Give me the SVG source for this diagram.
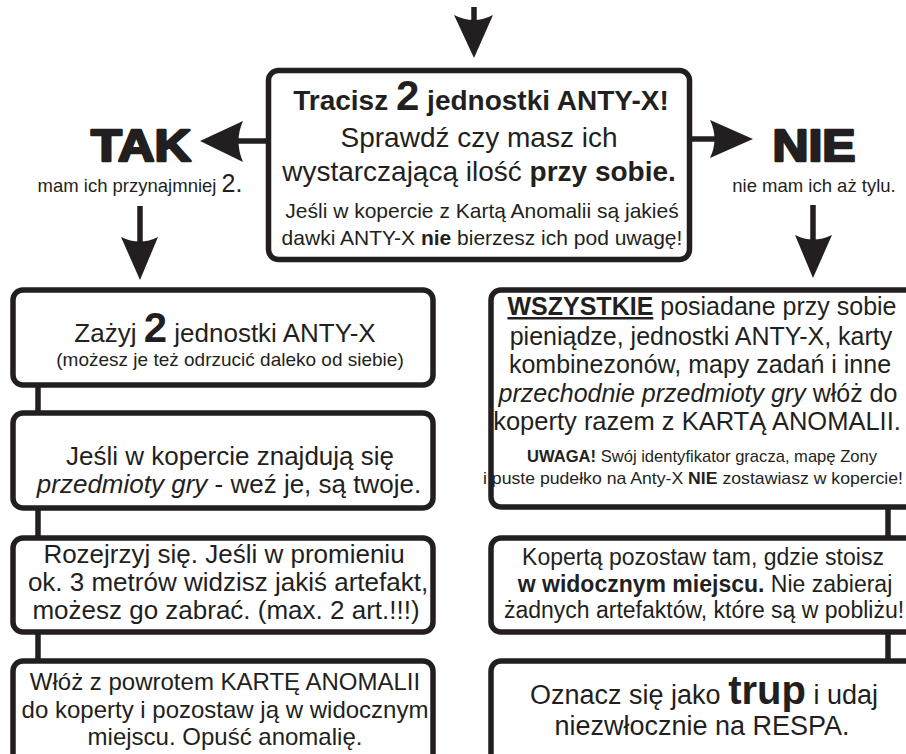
<svg xmlns="http://www.w3.org/2000/svg" width="906" height="754" viewBox="0 0 906 754">
<style>
text{font-family:"Liberation Sans",Arial,sans-serif;fill:#231f20;text-anchor:middle}
.box{fill:#fff;stroke:#231f20;stroke-width:5.5}
.b{font-weight:bold}
.i{font-style:italic}
.con{stroke:#231f20;stroke-width:5.5;fill:none}
.ah{fill:#231f20}
.big{font-weight:bold;font-size:45px;stroke:#231f20;stroke-width:2.5;stroke-linejoin:round}
</style>
<rect width="906" height="754" fill="#fff"/>
<g id="connectors">
  <line class="con" x1="474" y1="7" x2="474" y2="22"/>
  <path class="ah" d="M454,15 Q474,25 493,15 L474,58 Z"/>
  <line class="con" x1="270" y1="141" x2="238" y2="141"/>
  <path class="ah" d="M243,121 Q234,141 243,162 L200,141 Z"/>
  <line class="con" x1="688" y1="139" x2="716" y2="139"/>
  <path class="ah" d="M710,120 Q719,139 710,158 L753,139 Z"/>
  <line class="con" x1="140" y1="206" x2="140" y2="242"/>
  <path class="ah" d="M121,237 Q140,246 158,237 L140,280 Z"/>
  <line class="con" x1="813" y1="205" x2="813" y2="240"/>
  <path class="ah" d="M795,235 Q813,244 832,235 L813,278 Z"/>
  <line class="con" x1="38" y1="385" x2="38" y2="413"/>
  <line class="con" x1="38" y1="508" x2="38" y2="538"/>
  <line class="con" x1="38" y1="632" x2="38" y2="661"/>
  <line class="con" x1="888" y1="507" x2="888" y2="538"/>
  <line class="con" x1="888" y1="632" x2="888" y2="661"/>
</g>
<g id="start">
  <rect class="box" x="268.5" y="70.5" width="421" height="189" rx="10"/>
  <text x="481" y="110" class="b" font-size="28">Tracisz <tspan font-size="42">2</tspan> jednostki ANTY-X!</text>
  <text x="479" y="147" font-size="28">Sprawdź czy masz ich</text>
  <text x="479" y="181" font-size="28">wystarczającą ilość <tspan class="b">przy sobie.</tspan></text>
  <text x="482" y="218" font-size="21">Jeśli w kopercie z Kartą Anomalii są jakieś</text>
  <text x="482" y="245" font-size="21">dawki ANTY-X <tspan class="b">nie</tspan> bierzesz ich pod uwagę!</text>
</g>
<g id="tak">
  <text x="141" y="161" class="big" textLength="100" lengthAdjust="spacingAndGlyphs">TAK</text>
  <text x="140" y="192" font-size="18.5">mam ich przynajmniej <tspan font-size="25">2.</tspan></text>
</g>
<g id="nie">
  <text x="814" y="161" class="big" textLength="83" lengthAdjust="spacingAndGlyphs">NIE</text>
  <text x="814" y="192" font-size="18.5">nie mam ich aż tylu.</text>
</g>
<g id="l1">
  <rect class="box" x="13" y="290" width="420" height="95" rx="10"/>
  <text x="225" y="342" font-size="26">Zażyj <tspan class="b" font-size="42">2</tspan> jednostki ANTY-X</text>
  <text x="230" y="366" font-size="19">(możesz je też odrzucić daleko od siebie)</text>
</g>
<g id="l2">
  <rect class="box" x="13" y="413" width="420" height="95" rx="10"/>
  <text x="230" y="465" font-size="26">Jeśli w kopercie znajdują się</text>
  <text x="229" y="493" font-size="26"><tspan class="i">przedmioty gry</tspan> - weź je, są twoje.</text>
</g>
<g id="l3">
  <rect class="box" x="13" y="538" width="420" height="94" rx="10"/>
  <text x="224" y="563" font-size="26">Rozejrzyj się. Jeśli w promieniu</text>
  <text x="228" y="591" font-size="26">ok. 3 metrów widzisz jakiś artefakt,</text>
  <text x="226" y="619" font-size="26">możesz go zabrać. (max. 2 art.!!!)</text>
</g>
<g id="l4">
  <rect class="box" x="13" y="661" width="420" height="110" rx="10"/>
  <text x="225" y="690" font-size="24">Włóż z powrotem KARTĘ ANOMALII</text>
  <text x="225" y="718" font-size="24">do koperty i pozostaw ją w widocznym</text>
  <text x="225" y="745" font-size="24">miejscu. Opuść anomalię.</text>
</g>
<g id="r1">
  <rect class="box" x="491" y="290" width="425" height="217" rx="10"/>
  <text x="702" y="315" font-size="25"><tspan class="b" text-decoration="underline">WSZYSTKIE</tspan> posiadane przy sobie</text>
  <text x="701" y="345" font-size="25">pieniądze, jednostki ANTY-X, karty</text>
  <text x="700" y="373" font-size="25">kombinezonów, mapy zadań i inne</text>
  <text x="698" y="402" font-size="25"><tspan class="i">przechodnie przedmioty gry</tspan> włóż do</text>
  <text x="697" y="430" font-size="25.5">koperty razem z KARTĄ ANOMALII.</text>
  <text x="702" y="462" font-size="17" textLength="350" lengthAdjust="spacingAndGlyphs"><tspan class="b">UWAGA!</tspan> Swój identyfikator gracza, mapę Zony</text>
  <text x="693" y="484" font-size="17" textLength="420" lengthAdjust="spacingAndGlyphs">i puste pudełko na Anty-X <tspan class="b">NIE</tspan> zostawiasz w kopercie!</text>
</g>
<g id="r2">
  <rect class="box" x="491" y="538" width="425" height="94" rx="10"/>
  <text x="703" y="565" font-size="23">Kopertą pozostaw tam, gdzie stoisz</text>
  <text x="705" y="592" font-size="23"><tspan class="b">w widocznym miejscu.</tspan> Nie zabieraj</text>
  <text x="704" y="618" font-size="23">żadnych artefaktów, które są w pobliżu!</text>
</g>
<g id="r3">
  <rect class="box" x="491" y="661" width="425" height="110" rx="10"/>
  <text x="704" y="704" font-size="27">Oznacz się jako <tspan class="b" font-size="40">trup</tspan> i udaj</text>
  <text x="702" y="735" font-size="27">niezwłocznie na RESPA.</text>
</g>
</svg>
